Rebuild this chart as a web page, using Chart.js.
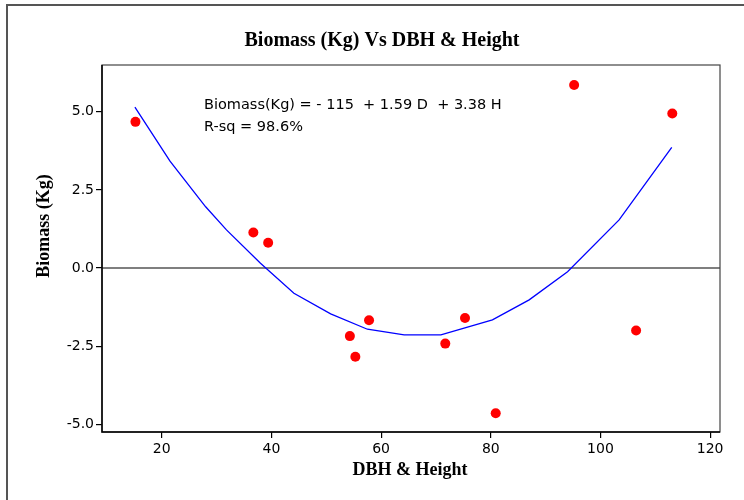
<!DOCTYPE html>
<html>
<head>
<meta charset="utf-8">
<script src="https://cdn.jsdelivr.net/npm/chart.js@4"></script>
<style>
  html, body { margin: 0; padding: 0; background: #fff; }
  canvas { display: block; }
</style>
</head>
<body>
<canvas id="chart" width="744" height="500"></canvas>
<script>
// observed points
const obsX = [15.2, 36.7, 39.4, 54.3, 55.3, 57.8, 71.7, 75.3, 80.9, 95.2, 106.5, 113.1];
const obsY = [4.68, 1.14, 0.81, -2.18, -2.84, -1.67, -2.42, -1.60, -4.65, 5.86, -2.00, 4.95];

// fitted line
const fitX = [15.1, 21.5, 28.0, 31.8, 38.0, 44.1, 50.8, 57.5, 64.2, 70.9, 80.3, 87.0, 94.0, 103.4, 113.0];
const fitY = [5.15, 3.42, 1.96, 1.22, 0.15, -0.81, -1.47, -1.96, -2.14, -2.14, -1.66, -1.02, -0.12, 1.54, 3.86];

const xTicks = [20, 40, 60, 80, 100, 120];
const yTicks = [-5, -2.5, 0, 2.5, 5];

const TITLE = 'Biomass (Kg) Vs DBH & Height';
const X_TITLE = 'DBH & Height';
const Y_TITLE = 'Biomass (Kg)';
const EQUATION = 'Biomass(Kg) = - 115  + 1.59 D  + 3.38 H';
const RSQ = 'R-sq = 98.6%';

const SERIF = "'Liberation Serif', 'DejaVu Serif', serif";
const SANS = "'DejaVu Sans', 'Noto Sans', sans-serif";

const decorations = {
    id: 'decorations',
    beforeDatasetsDraw(chart) {
        const c = chart.ctx;
        const y0 = chart.scales.y.getPixelForValue(0);
        const a = chart.chartArea;
        c.save();
        c.strokeStyle = '#555';
        c.lineWidth = 1.5;
        c.beginPath();
        c.moveTo(a.left, y0);
        c.lineTo(a.right, y0);
        c.stroke();
        c.restore();
    },
    afterDraw(chart) {
        const c = chart.ctx;
        const a = chart.chartArea;
        const xs = chart.scales.x, ys = chart.scales.y;
        c.save();
        // outer frame (top + left)
        c.strokeStyle = '#555';
        c.lineWidth = 2;
        c.beginPath();
        c.moveTo(7, 500);
        c.lineTo(7, 5);
        c.lineTo(744, 5);
        c.stroke();

        // plot box
        c.strokeStyle = '#444';
        c.lineWidth = 1.2;
        c.strokeRect(a.left, a.top, a.right - a.left, a.bottom - a.top);
        c.strokeStyle = '#000';
        c.lineWidth = 1.5;
        c.beginPath();
        c.moveTo(a.left, a.top);
        c.lineTo(a.left, a.bottom);
        c.lineTo(a.right, a.bottom);
        c.stroke();

        // titles
        c.fillStyle = '#000';
        c.textAlign = 'center';
        c.textBaseline = 'middle';
        c.font = "bold 20px " + SERIF;
        c.fillText(TITLE, 382, 41);
        c.font = "bold 18px " + SERIF;
        c.fillText(X_TITLE, 410, 470);
        c.save();
        c.translate(44, 226);
        c.rotate(-Math.PI / 2);
        c.fillText(Y_TITLE, 0, 0);
        c.restore();

        // regression annotation
        c.font = "14.5px " + SANS;
        c.textAlign = 'left';
        c.fillText(EQUATION, xs.getPixelForValue(27.7), ys.getPixelForValue(5.2));
        c.fillText(RSQ, xs.getPixelForValue(27.7), ys.getPixelForValue(4.5));
        c.restore();
    }
};

new Chart(document.getElementById('chart'), {
    data: {
        datasets: [
            {
                type: 'line',
                data: fitX.map((x, i) => ({ x, y: fitY[i] })),
                borderColor: '#0000ff',
                borderWidth: 1.3,
                pointRadius: 0,
                tension: 0,
                fill: false,
                order: 2,
            },
            {
                type: 'scatter',
                data: obsX.map((x, i) => ({ x, y: obsY[i] })),
                backgroundColor: '#ff0000',
                borderColor: '#ff0000',
                pointRadius: 5,
                borderWidth: 0,
                order: 1,
            },
        ],
    },
    options: {
        responsive: false,
        devicePixelRatio: 1,
        animation: false,
        layout: { padding: { left: 0, right: 24, top: 65, bottom: 0 } },
        plugins: {
            legend: { display: false },
            tooltip: { enabled: false },
        },
        scales: {
            x: {
                type: 'linear',
                min: 9.1,
                max: 121.8,
                afterBuildTicks: s => { s.ticks = xTicks.map(v => ({ value: v })); },
                afterFit: s => { s.height = 68; },
                grid: { drawOnChartArea: false, drawTicks: true, tickLength: 6, color: '#000', lineWidth: 1.2 },
                border: { display: false },
                ticks: { color: '#000', padding: 3, font: { family: SANS, size: 14 }, maxRotation: 0 },
            },
            y: {
                type: 'linear',
                min: -5.25,
                max: 6.5,
                afterBuildTicks: s => { s.ticks = yTicks.map(v => ({ value: v })); },
                afterFit: s => { s.width = 102; },
                grid: { drawOnChartArea: false, drawTicks: true, tickLength: 6, color: '#000', lineWidth: 1.2 },
                border: { display: false },
                ticks: { color: '#000', padding: 2, font: { family: SANS, size: 14 }, callback: v => v.toFixed(1) },
            },
        },
    },
    plugins: [decorations],
});
</script>
</body>
</html>
